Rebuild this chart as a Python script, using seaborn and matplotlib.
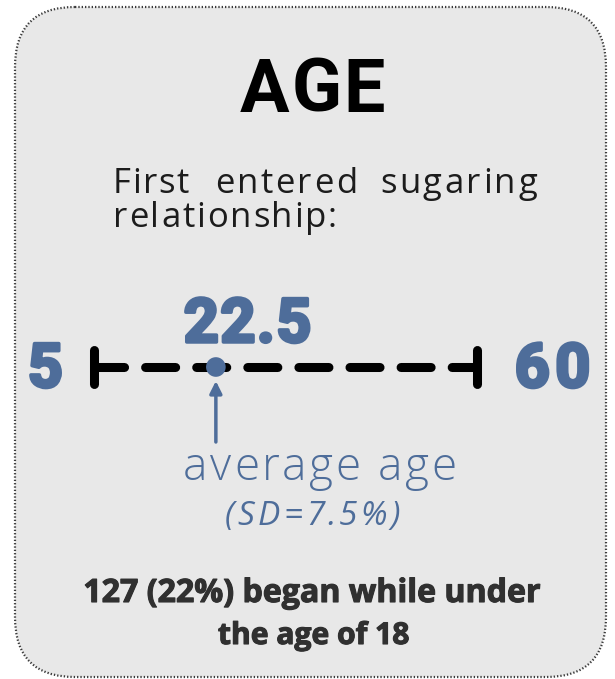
import matplotlib
matplotlib.use("Agg")
import matplotlib.pyplot as plt
from matplotlib.patches import FancyBboxPatch
from matplotlib.font_manager import FontProperties
import matplotlib.patheffects as pe
import seaborn as sns
import pandas as pd

# ---- data ----
range_labels = ["5", "60"]
range_values = [5, 60]
mean_age = [22.5]
sd_value = 7.5
under18_count = 127
under18_pct = 22
title = "AGE"
subtitle_line1 = ["First", "entered", "sugaring"]
subtitle_line2 = "relationship:"

BLUE = "#4e6d9a"
BG = "#e8e8e8"

sns.set_theme(style="white")
plt.rcParams["font.family"] = ["Roboto", "DejaVu Sans"]

W, H = 615, 679
fig = plt.figure(figsize=(W / 100, H / 100), dpi=100)
fig.patch.set_facecolor("white")
renderer = fig.canvas.get_renderer()

# background / decoration axes in pixel coordinates
ax0 = fig.add_axes([0, 0, 1, 1])
ax0.set_xlim(0, W)
ax0.set_ylim(H, 0)
ax0.axis("off")

box = FancyBboxPatch((15 + 60, 7 + 60), 591 - 120, 670 - 120,
                     boxstyle="round,pad=60",
                     facecolor=BG, edgecolor="#3a3a3a",
                     linewidth=1.6, linestyle=(0, (0.6, 0.9)))
ax0.add_patch(box)


def ink_width(s, prop):
    w, h, d = renderer.get_text_width_height_descent(s, prop, ismath=False)
    return w


def tracked(x_left, x_right, baseline, s, fs, color, family, weight="normal",
            style="normal", stroke=0):
    """Draw string s between x_left and x_right (pixels) with letter spacing."""
    prop = FontProperties(family=family, weight=weight, style=style, size=fs)
    pad = stroke * 100 / 72.0 / 2
    natural = ink_width(s, prop)
    n = len(s)
    track = (x_right - x_left - 2 * pad - natural) / max(n - 1, 1)
    effects = [pe.withStroke(linewidth=stroke, foreground=color)] if stroke else None
    for i, c in enumerate(s):
        if c == " ":
            continue
        left = ink_width(s[:i + 1], prop) - ink_width(c, prop)
        ax0.text(x_left + pad + left + track * i, baseline, c, ha="left",
                 va="baseline", fontproperties=prop, color=color,
                 path_effects=effects)


def fitted(x_left, x_right, baseline, s, fs, color, family, weight="normal",
           stroke=0):
    """Draw string s as one text, font size scaled so it spans x_left..x_right."""
    prop = FontProperties(family=family, weight=weight, size=fs)
    natural = ink_width(s, prop)
    prop.set_size(fs * (x_right - x_left - stroke * 1.39) / natural)
    effects = [pe.withStroke(linewidth=stroke, foreground=color)] if stroke else None
    ax0.text((x_left + x_right) / 2, baseline, s, ha="center", va="baseline",
             fontproperties=prop, color=color, path_effects=effects)


tracked(240, 385, 112, title, 53, "black", ["Roboto"], weight="bold")

sub_color = "#1c1c1c"
tracked(113, 189, 193, subtitle_line1[0], 25, sub_color, ["Open Sans"])
tracked(215, 357, 193, subtitle_line1[1], 25, sub_color, ["Open Sans"])
tracked(380, 537, 193, subtitle_line1[2], 25, sub_color, ["Open Sans"])
tracked(113, 337, 227, subtitle_line2, 25, sub_color, ["Open Sans"])

tracked(182, 313, 342, f"{mean_age[0]}", 44, BLUE, ["Roboto"], weight="bold",
        stroke=2.5)
tracked(26, 63, 387, range_labels[0], 44, BLUE, ["Roboto"], weight="bold",
        stroke=2.5)
tracked(513, 592, 387, range_labels[1], 44, BLUE, ["Roboto"], weight="bold",
        stroke=2.5)

tracked(183, 457, 480, "average age", 33, BLUE, ["Open Sans"], weight="light")
tracked(225, 400, 525, f"(SD={sd_value}%)", 24, BLUE, ["Open Sans"],
        style="italic")

bot_color = "#303030"
fitted(82, 541, 602, f"{under18_count} ({under18_pct}%) began while under",
       23, bot_color, ["Open Sans"], weight="bold", stroke=0.8)
fitted(217, 410, 644, "the age of 18", 23, bot_color, ["Open Sans"],
       weight="bold", stroke=0.8)

# number line axes: x 94..477 px, y 340..394 px
x0p, x1p, y0p, y1p = 94, 477, 340, 394
ax = fig.add_axes([x0p / W, 1 - y1p / H, (x1p - x0p) / W, (y1p - y0p) / H])
ax.set_xlim(range_values[0], range_values[1])
ax.set_ylim(-27, 27)
ax.axis("off")
ax.patch.set_alpha(0)

line_df = pd.DataFrame({"age": range_values, "y": [0, 0]})
sns.lineplot(data=line_df, x="age", y="y", ax=ax, color="black", linewidth=6.5)
ln = ax.lines[-1]
ln.set_dashes((3.33, 2.33))
ln.set_dash_capstyle("round")
ln.set_clip_on(False)

for v in range_values:
    ax.plot([v, v], [-17, 17], color="black", linewidth=6.5,
            solid_capstyle="round", clip_on=False)

dot_df = pd.DataFrame({"age": mean_age, "y": [0]})
sns.scatterplot(data=dot_df, x="age", y="y", ax=ax, color=BLUE, s=200,
                edgecolor="none", zorder=5, clip_on=False)

ax.annotate("", xy=(mean_age[0], -14), xytext=(mean_age[0], -75),
            arrowprops=dict(arrowstyle="-|>,head_length=0.6,head_width=0.3",
                            color=BLUE, lw=2.5, shrinkA=0, shrinkB=0),
            annotation_clip=False)

fig.savefig("out.png", dpi=100, facecolor="white")
